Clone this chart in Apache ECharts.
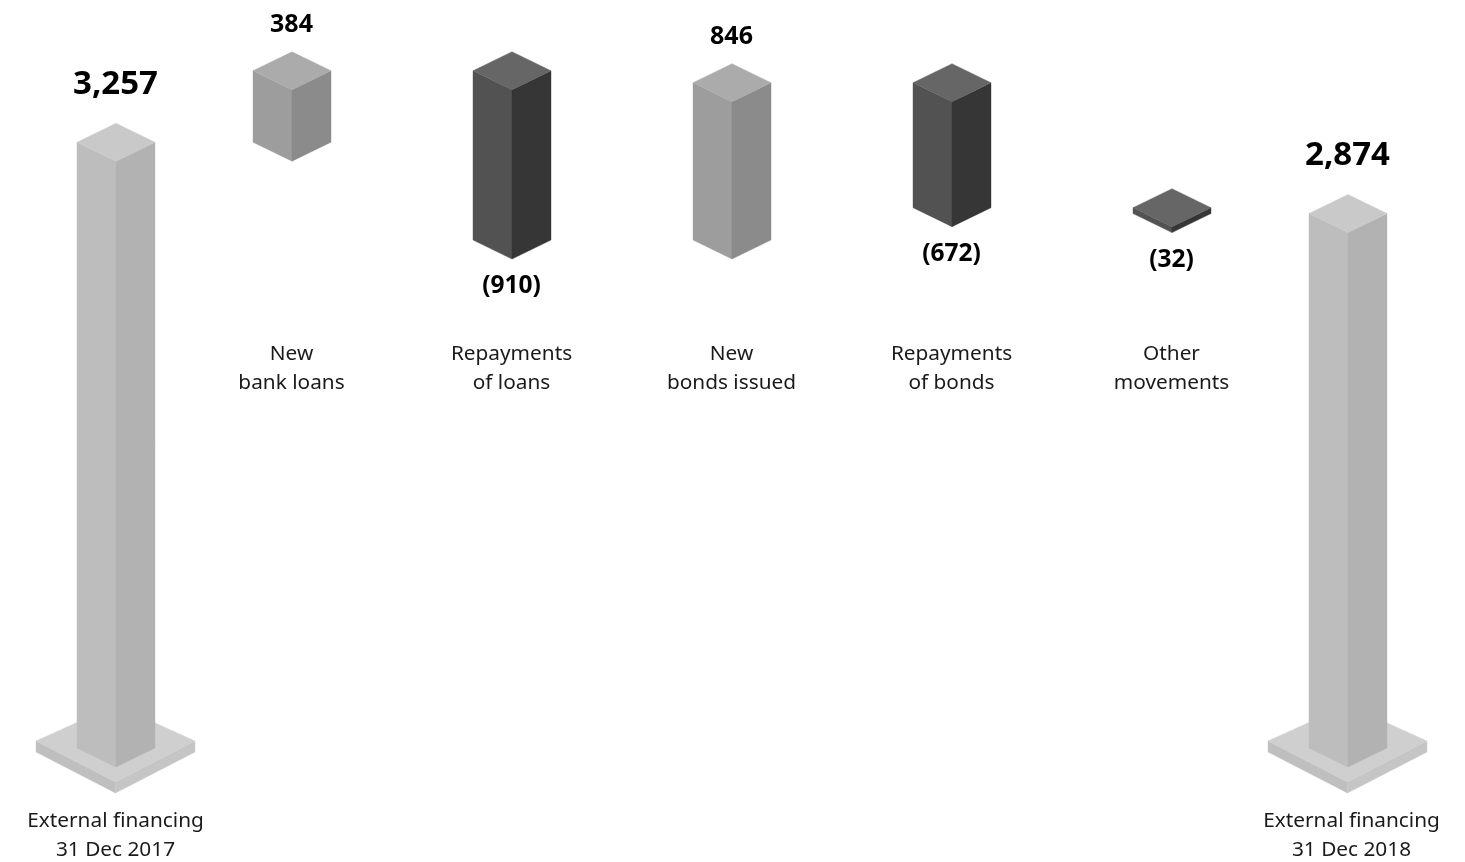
<!DOCTYPE html>
<html>
<head>
<meta charset="utf-8">
<style>html,body{margin:0;padding:0;background:#fff}#chart{width:1465px;height:862px}</style>
<script src="https://cdn.jsdelivr.net/npm/echarts@6/dist/echarts.min.js"></script>
</head>
<body>
<div id="chart"></div>
<script>
const categories = ['External financing\n31 Dec 2017','New\nbank loans','Repayments\nof loans','New\nbonds issued','Repayments\nof bonds','Other\nmovements','External financing\n31 Dec 2018'];
const changes = [3257, 384, -910, 846, -672, -32, 2874];
const valueLabels = ['3,257','384','(910)','846','(672)','(32)','2,874'];
const kinds = ['total','up','down','up','down','down','total'];
const slots = [0, 4, 9, 14, 19, 24, 28];

const palette = {
  total: {top:'#c9c9c9', left:'#bdbdbd', right:'#b2b2b2'},
  up:    {top:'#ababab', left:'#9d9d9d', right:'#8b8b8b'},
  down:  {top:'#666666', left:'#525252', right:'#363636'}
};
const plate = {top:'#cfcfcf', left:'#bfbfbf', right:'#c5c5c5'};
const FONT = '"Noto Sans"';
const HW = 39, RISE = 19;

let level = 0;
const rows = changes.map((c, i) => {
  if (kinds[i] === 'total') { level = c; return [slots[i], 0, c, i]; }
  const open = level; level += c;
  return [slots[i], open, level, i];
});

function poly(points, fill) {
  return {type:'polygon', shape:{points}, style:{fill, stroke:fill, lineWidth:0.4}};
}
function prism(cx, yTop, yBottom, hw, rise, col, backRise) {
  const back = backRise === undefined ? rise : backRise;
  return [
    poly([[cx-hw,yTop-rise],[cx,yTop],[cx,yBottom],[cx-hw,yBottom-rise]], col.left),
    poly([[cx+hw,yTop-rise],[cx,yTop],[cx,yBottom],[cx+hw,yBottom-rise]], col.right),
    poly([[cx,yTop-rise-back],[cx+hw,yTop-rise],[cx,yTop],[cx-hw,yTop-rise]], col.top)
  ];
}
function label(text, x, y, size, weight, lineHeight, fill) {
  return {type:'text', style:{text, x, y, fill, align:'center', verticalAlign:'middle',
    font: weight+' '+size+'px '+FONT, lineHeight: lineHeight || size}};
}

function renderItem(params, api) {
  const i = api.value(3), kind = kinds[i];
  const a = api.coord([api.value(0), api.value(1)]);
  const b = api.coord([api.value(0), api.value(2)]);
  const cx = a[0], yTop = Math.min(a[1], b[1]), yBottom = Math.max(a[1], b[1]);
  const children = [];
  if (kind === 'total') {
    children.push(...prism(cx-0.5, yBottom+15, yBottom+26, 79.5, 41, plate, 36));
    children.push(...prism(cx, yTop, yBottom, HW, RISE, palette.total));
    children.push(label(valueLabels[i], cx-0.5, yTop-2*RISE-39, 33, 700, 33, '#000'));
    children.push(label(categories[i], i === 0 ? cx-0.5 : cx+3.5, 836, 20.8, 400, 29, '#1a1a1a'));
  } else {
    children.push(...prism(cx, yTop, yBottom, HW, RISE, palette[kind]));
    if (kind === 'up') children.push(label(valueLabels[i], cx-0.5, yTop-2*RISE-26.5, 25, 700, 25, '#000'));
    else children.push(label(valueLabels[i], cx-0.5, yBottom+27, 24.5, 700, 25, '#000'));
    children.push(label(categories[i], cx-0.5, 369, 20.8, 400, 29, '#1a1a1a'));
  }
  return {type:'group', children};
}

const chart = echarts.init(document.getElementById('chart'), null, {renderer:'canvas'});
chart.setOption({
  animation:false,
  backgroundColor:'#ffffff',
  grid:{left:116, width:1232, top:23, height:744},
  xAxis:{type:'value', min:0, max:28, show:false},
  yAxis:{type:'value', min:0, max:4000, show:false},
  series:[{
    type:'custom',
    clip:false,
    silent:true,
    renderItem,
    encode:{x:0, y:[1,2]},
    data:rows
  }]
});
</script>
</body>
</html>
